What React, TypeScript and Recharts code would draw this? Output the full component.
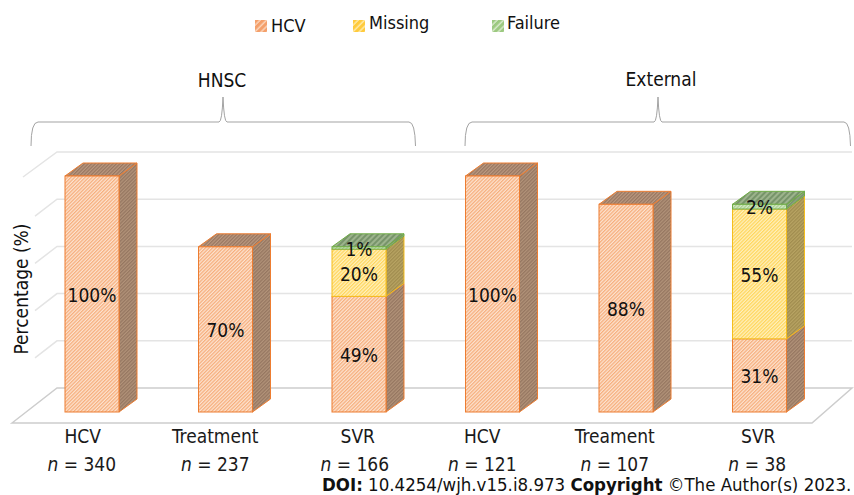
import React from "react";
import { Bar, BarChart, CartesianGrid, LabelList, Legend, XAxis, YAxis } from "recharts";

const categories = ["HCV", "Treatment", "SVR", "HCV", "Treament", "SVR"];
const sampleSizes = [340, 237, 166, 121, 107, 38];
const hcvValues = [100, 70, 49, 100, 88, 31];
const missingValues = [null, null, 20, null, null, 55];
const failureValues = [null, null, 1, null, null, 2];
const yTicks = [0, 20, 40, 60, 80, 100];

const chartData = categories.map((category, i) => ({
  id: i,
  category,
  n: sampleSizes[i],
  hcv: hcvValues[i],
  missing: missingValues[i],
  failure: failureValues[i],
}));

const FONT = '"DejaVu Sans Condensed", "DejaVu Sans", sans-serif';
const DEPTH_X = 18;
const DEPTH_Y = 13;
const WALL_SHIFT = 24;

// nudges for the axis labels, they don't sit under the bars in the original
const tickShift = [-9, -10, -1, -10, -11, -1];
const nShift = [-10, -10, -4, -10, -11, -2];

const looks: Record<string, { stroke: string }> = {
  hcv: { stroke: "#ED7D31" },
  missing: { stroke: "#F5BE1E" },
  failure: { stroke: "#70AD47" },
};

const Stripes = ({ id, bg, line, size = 2.5, width = 1.25 }: any) => (
  <pattern id={id} width={size} height={size} patternUnits="userSpaceOnUse" patternTransform="rotate(-45)">
    <rect width={size} height={size} fill={bg} />
    <rect width={size} height={width} fill={line} />
  </pattern>
);

const Box3D = (props: any) => {
  const { x, y, width, height, series } = props;
  if (!height || height <= 0) return null;
  const stroke = looks[series].stroke;
  const r = x + width;
  const b = y + height;
  return (
    <g>
      <polygon
        points={`${r},${y} ${r + DEPTH_X},${y - DEPTH_Y} ${r + DEPTH_X},${b - DEPTH_Y} ${r},${b}`}
        fill={`url(#side-${series})`}
        stroke={stroke}
        strokeWidth={1}
      />
      <polygon
        points={`${x},${y} ${x + DEPTH_X},${y - DEPTH_Y} ${r + DEPTH_X},${y - DEPTH_Y} ${r},${y}`}
        fill={`url(#top-${series})`}
        stroke={stroke}
        strokeWidth={1}
      />
      <rect x={x} y={y} width={width} height={height} fill={`url(#front-${series})`} stroke={stroke} strokeWidth={1} />
    </g>
  );
};

// back wall lines, plus the floor when the tick is the zero line
const WallLine = (props: any) => {
  const { y1, x2 } = props;
  const wy = y1 - WALL_SHIFT;
  const isFloor = y1 > 400;
  const isTop = y1 < 180;
  if (isFloor) {
    return (
      <polygon
        points={`12,${wy + 35} 57,${wy} ${x2 + 26},${wy} 812,${wy + 35}`}
        fill="none"
        stroke="#CDCDCD"
        strokeWidth={1.5}
      />
    );
  }
  const startX = isTop ? 23 : 35;
  const startY = isTop ? wy + 25 : wy + 17;
  return (
    <polyline
      points={`${startX},${startY} 57,${wy} ${x2 + 26},${wy}`}
      fill="none"
      stroke="#E4E4E4"
      strokeWidth={1.5}
    />
  );
};

const CategoryTick = (props: any) => {
  const { x, y, payload } = props;
  const i = payload.index;
  return (
    <g fontFamily={FONT} fontSize={19} fill="#1a1a1a" textAnchor="middle">
      <text x={x + tickShift[i]} y={y + 23}>
        {payload.value}
      </text>
      <text x={x + nShift[i]} y={y + 51}>
        <tspan fontStyle="italic">n</tspan> = {sampleSizes[i]}
      </text>
    </g>
  );
};

const legendSpots: Record<string, { square: number; text: number; base: number }> = {
  hcv: { square: 255, text: 271, base: 33 },
  missing: { square: 353, text: 369, base: 30 },
  failure: { square: 492, text: 507, base: 30 },
};

const LegendRow = ({ payload }: any) => (
  <div style={{ position: "relative", width: 854, height: 0, fontFamily: FONT, fontSize: 18, color: "#111" }}>
    {(payload || []).map((item: any) => {
      const spot = legendSpots[item.dataKey];
      return (
        <React.Fragment key={item.dataKey}>
          <svg style={{ position: "absolute", left: spot.square, top: 20 }} width={12} height={12}>
            <rect width={12} height={12} fill={`url(#legend-${item.dataKey})`} />
          </svg>
          <span style={{ position: "absolute", left: spot.text, top: spot.base - 19, lineHeight: "24px", whiteSpace: "nowrap" }}>
            {item.value}
          </span>
        </React.Fragment>
      );
    })}
  </div>
);

const percent = (v: any) => (v ? `${v}%` : "");
const labelStyle = { fontFamily: FONT, fontSize: 19, fill: "#111" };

export default function App() {
  return (
    <div style={{ position: "absolute", left: 0, top: 0, width: 854, height: 495, background: "#fff", overflow: "hidden" }}>
      <BarChart
        width={854}
        height={495}
        data={chartData}
        margin={{ top: 176, right: 28, bottom: 0, left: 25 }}
        barSize={54}
      >
        <defs>
          <Stripes id="front-hcv" bg="#FDE3D0" line="#F6AE7C" />
          <Stripes id="side-hcv" bg="#B29379" line="#957660" />
          <Stripes id="top-hcv" bg="#BB9980" line="#977660" />
          <Stripes id="front-missing" bg="#FFF0BE" line="#FFD65C" />
          <Stripes id="side-missing" bg="#B8A463" line="#A08C4E" />
          <Stripes id="top-missing" bg="#B8A463" line="#A08C4E" />
          <Stripes id="front-failure" bg="#D5E8C8" line="#A9D18E" />
          <Stripes id="side-failure" bg="#8FA87F" line="#76916A" />
          <Stripes id="top-failure" bg="#9CB38C" line="#77946A" size={4} width={2} />
          <Stripes id="legend-hcv" bg="#FBD3B8" line="#F4A06B" size={4.5} width={3} />
          <Stripes id="legend-missing" bg="#FFE9A6" line="#FFCB3D" size={4.5} width={3} />
          <Stripes id="legend-failure" bg="#D5E8C8" line="#9CC980" size={4.5} width={3} />
        </defs>
        <CartesianGrid vertical={false} horizontal={(p: any) => <WallLine key={p.key} {...p} />} />
        <XAxis
          dataKey="category"
          height={83}
          axisLine={false}
          tickLine={false}
          interval={0}
          tick={(p: any) => <CategoryTick {...p} />}
        />
        <YAxis width={0} domain={[0, 100]} ticks={yTicks} interval={0} tick={() => <g />} axisLine={false} tickLine={false} />
        <Legend
          layout="vertical"
          align="center"
          verticalAlign="top"
          wrapperStyle={{ left: 0, top: 0, width: 854, height: 0 }}
          content={(p: any) => <LegendRow {...p} />}
        />
        <Bar
          dataKey="hcv"
          name="HCV"
          stackId="a"
          fill="#F4B183"
          isAnimationActive={false}
          shape={(p: any) => <Box3D {...p} series="hcv" />}
        >
          <LabelList dataKey="hcv" position="center" formatter={percent} style={labelStyle} dy={1} />
        </Bar>
        <Bar
          dataKey="missing"
          name="Missing"
          stackId="a"
          fill="#FFD966"
          isAnimationActive={false}
          shape={(p: any) => <Box3D {...p} series="missing" />}
        >
          <LabelList dataKey="missing" position="center" formatter={percent} style={labelStyle} dy={1} />
        </Bar>
        <Bar
          dataKey="failure"
          name="Failure"
          stackId="a"
          fill="#A9D18E"
          isAnimationActive={false}
          shape={(p: any) => <Box3D {...p} series="failure" />}
        >
          <LabelList dataKey="failure" position="center" formatter={percent} style={labelStyle} dy={1} />
        </Bar>
        {/* group braces and titles */}
        <g fill="none" stroke="#A3A3A3" strokeWidth={1}>
          <path d="M31 146 Q31 122 38 122 L219 122 Q222 122 223 97 Q224 122 227 122 L409 122 Q415 122 415.5 146" />
          <path d="M465 146 Q465 122 472 122 L654 122 Q657 122 658 97 Q659 122 662 122 L844 122 Q850 122 850.5 146" />
        </g>
        <g fontFamily={FONT} fontSize={19} fill="#111" textAnchor="middle">
          <text x={222} y={87}>HNSC</text>
          <text x={661} y={86}>External</text>
          <text transform="translate(28,289) rotate(-90)">Percentage (%)</text>
        </g>
        <text x={322} y={491} fontFamily={FONT} fontSize={18.5} fill="#111">
          <tspan fontWeight="bold">DOI:</tspan> 10.4254/wjh.v15.i8.973 <tspan fontWeight="bold">Copyright</tspan> ©The Author(s) 2023.
        </text>
      </BarChart>
    </div>
  );
}
